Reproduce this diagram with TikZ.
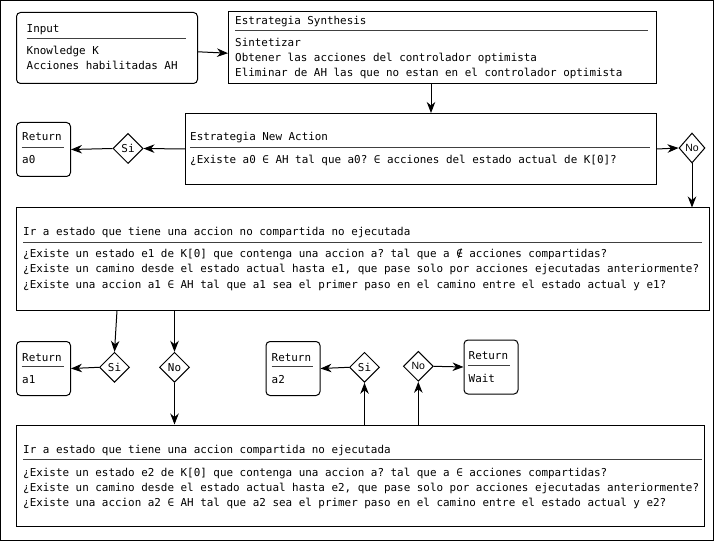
\documentclass[tikz,border=0pt]{standalone}
\usepackage{fontspec}
\setmonofont{DejaVu Sans Mono}
\newfontfamily\nofont{Liberation Sans}
\usetikzlibrary{shapes.geometric,arrows.meta,calc}
\begin{document}
\begin{tikzpicture}[x=1bp,y=-1bp,
  every node/.style={font=\ttfamily\fontsize{10.9bp}{15bp}\selectfont},
  box/.style={draw,line width=1bp,inner sep=0,anchor=north west},
  rbox/.style={box,rounded corners=4bp},
  txt/.style={anchor=base west,inner sep=0},
  sepl/.style={draw=black!75,line width=1bp},
  dia/.style={draw,diamond,line width=1bp,inner sep=0,minimum width=30bp,minimum height=30bp},
  sansno/.style={font=\nofont\fontsize{10.5bp}{12bp}\selectfont},
  arr/.style={line width=1bp,-{Stealth[length=11bp,width=8.5bp,inset=3.5bp]}},
]
\useasboundingbox (0,0) rectangle (714,541);
\draw[line width=1bp] (0.5,0.5) rectangle (713.5,540.5);

% boxes
\node[rbox,minimum width=181bp,minimum height=71bp] (input) at (16,12) {};
\node[box,minimum width=428bp,minimum height=72bp] (synth) at (228,11) {};
\node[box,minimum width=471bp,minimum height=71bp] (na) at (185,113) {};
\node[rbox,minimum width=54bp,minimum height=54bp] (r0) at (16,122) {};
\node[box,minimum width=693bp,minimum height=102bp] (b1) at (16,207.5) {};
\node[rbox,minimum width=54bp,minimum height=54bp] (r1) at (16,341) {};
\node[rbox,minimum width=54bp,minimum height=54bp] (r2) at (265.5,341) {};
\node[rbox,minimum width=54bp,minimum height=54bp] (rw) at (463.5,339.5) {};
\node[box,minimum width=687.5bp,minimum height=101.5bp] (b2) at (16,424.5) {};

% diamonds
\node[dia] (si0) at (128,148.5) {Si};
\node[dia,sansno,minimum width=26bp] (no0) at (692,148) {No};
\node[dia] (si1) at (114.5,367.3) {Si};
\node[dia] (no1) at (174.5,367.3) {No};
\node[dia] (si2) at (364.5,367.3) {Si};
\node[dia,sansno] (no2) at (418.3,366.3) {No};

% texts: Input
\node[txt] (t1) at (26.5,32.5) {Input};
\draw[sepl] (26.5,38.5) -- (186,38.5);
\node[txt] (t2) at (26.5,55) {Knowledge K};
\node[txt] (t3) at (26.5,70) {Acciones habilitadas AH};

% Synthesis
\node[txt] (t4) at (235,25) {Estrategia Synthesis};
\draw[sepl] (235,31) -- (648,31);
\node[txt] (t5) at (235,47) {Sintetizar};
\node[txt] (t6) at (235,62) {Obtener las acciones del controlador optimista};
\node[txt] (t7) at (235,77) {Eliminar de AH las que no estan en el controlador optimista};

% New Action
\node[txt] (t8) at (190,141) {Estrategia New Action};
\draw[sepl] (190,147.5) -- (650,147.5);
\node[txt] (t9) at (190,164) {¿Existe a0 ∈ AH tal que a0? ∈ acciones del estado actual de K[0]?};

% Return a0
\node[txt] (t10) at (22,141) {Return};
\draw[sepl] (21.5,147.5) -- (63.5,147.5);
\node[txt] (t11) at (22,163.5) {a0};

% Box 1
\node[txt] (t12) at (23,236) {Ir a estado que tiene una accion no compartida no ejecutada};
\draw[sepl] (23,242.5) -- (702,242.5);
\node[txt] (t13) at (23,258) {¿Existe un estado e1 de K[0] que contenga una accion a? tal que a ∉ acciones compartidas?};
\node[txt] (t14) at (23,273) {¿Existe un camino desde el estado actual hasta e1, que pase solo por acciones ejecutadas anteriormente?};
\node[txt] (t15) at (23,288) {¿Existe una accion a1 ∈ AH tal que a1 sea el primer paso en el camino entre el estado actual y e1?};

% Return a1
\node[txt] (t16) at (22,361) {Return};
\draw[sepl] (21.5,366.5) -- (63.5,366.5);
\node[txt] (t17) at (22,383) {a1};

% Return a2
\node[txt] (t18) at (271.5,361) {Return};
\draw[sepl] (271.5,366.5) -- (313,366.5);
\node[txt] (t19) at (271.5,383) {a2};

% Return Wait
\node[txt] (t20) at (468.5,359.5) {Return};
\draw[sepl] (468,365.5) -- (510,365.5);
\node[txt] (t21) at (468.5,382) {Wait};

% Box 2
\node[txt] (t22) at (23,453) {Ir a estado que tiene una accion compartida no ejecutada};
\draw[sepl] (23,459.5) -- (702,459.5);
\node[txt] (t23) at (23,476) {¿Existe un estado e2 de K[0] que contenga una accion a? tal que a ∈ acciones compartidas?};
\node[txt] (t24) at (23,491) {¿Existe un camino desde el estado actual hasta e2, que pase solo por acciones ejecutadas anteriormente?};
\node[txt] (t25) at (23,506) {¿Existe una accion a2 ∈ AH tal que a2 sea el primer paso en el camino entre el estado actual y e2?};

% connectors
\coordinate (xa) at (431,0);
\coordinate (xs1) at (117,0);
\draw[arr] ([yshift=-3.8bp]input.east) -- ([yshift=-5.7bp]synth.west);
\draw[arr] (synth.south -| xa) -- (na.north -| xa);
\draw[arr] (na.west) -- (si0.east);
\draw[arr] (si0.west) -- (r0.east);
\draw[arr] (na.east) -- (no0.west);
\draw[arr] (no0.south) -- (no0.south |- b1.north);
\draw[arr] (b1.south -| xs1) -- (si1.north);
\draw[arr] (si1.west) -- (r1.east);
\draw[arr] (b1.south -| no1) -- (no1.north);
\draw[arr] (no1.south) -- (no1.south |- b2.north);
\draw[arr] (b2.north -| si2) -- (si2.south);
\draw[arr] (si2.west) -- (r2.east);
\draw[arr] (b2.north -| no2) -- (no2.south);
\draw[arr] (no2.east) -- (rw.west);
\end{tikzpicture}
\end{document}
